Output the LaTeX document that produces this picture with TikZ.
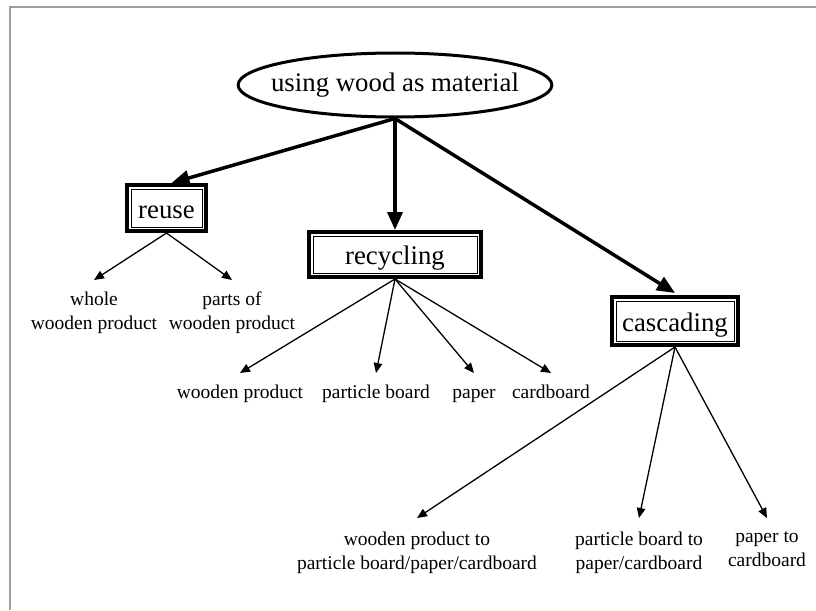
\documentclass[tikz,border=0pt]{standalone}
\usepackage{fontspec}
\setmainfont{Liberation Serif}
\usetikzlibrary{arrows.meta,shapes.geometric}
\begin{document}
\begin{tikzpicture}[x=1pt,y=-1pt,
  rootnode/.style={ellipse, draw, line width=3pt, minimum width=312pt,
    minimum height=64pt, inner xsep=-13pt, inner ysep=0pt,
    font=\fontsize{26.8}{30}\selectfont},
  catbox/.style={rectangle, inner sep=0pt, outer sep=0pt,
    text height=20pt, text depth=0pt, font=\fontsize{26.8}{30}\selectfont},
  leaf/.style={align=center, anchor=north, inner xsep=2pt, inner ysep=8.5pt,
    outer sep=0pt, font=\fontsize{19.5}{24}\selectfont,
    execute at begin node=\strut},
  bigarrow/.style={line width=3.5pt, -{Triangle[length=18pt,width=15pt]}},
  smallarrow/.style={line width=1.3pt, -{Triangle[length=10pt,width=8.5pt]}},
  outerframe/.style={line width=4pt},
  innerframe/.style={line width=1pt},
  pageedge/.style={draw=black!38, line width=1.2pt}
]
\useasboundingbox (0,0) rectangle (816,610);

% page edge
\draw[pageedge] (10,610) -- (10,7) -- (816,7);

% root
\node[rootnode] (root) at (395,85) {using wood as material};

% categories
\node[catbox, minimum width=83pt, minimum height=50pt] (reuse) at (166.5,208) {reuse};
\node[catbox, minimum width=176pt, minimum height=49pt] (recycling) at (395,254.5) {recycling};
\node[catbox, minimum width=130pt, minimum height=52pt] (cascading) at (675,321) {cascading};

\foreach \n in {reuse,recycling,cascading}{
  \draw[outerframe] ([shift={(2pt,-2pt)}]\n.north west) rectangle ([shift={(-2pt,2pt)}]\n.south east);
  \draw[innerframe] ([shift={(6pt,-6pt)}]\n.north west) rectangle ([shift={(-6pt,6pt)}]\n.south east);
}

% leaves of reuse
\node[leaf, inner ysep=12pt] (whole) at (94,280) {whole\\wooden product};
\node[leaf, inner ysep=12pt] (parts) at (232,280) {parts of\\wooden product};

% leaves of recycling
\node[leaf] (rwood) at (240,373) {wooden product};
\node[leaf] (rboard) at (376,373) {particle board};
\node[leaf] (rpaper) at (474,373) {paper};
\node[leaf] (rcard) at (551,373) {cardboard};

% leaves of cascading
\node[leaf, inner ysep=14pt] (cwood) at (417,518) {wooden product to\\particle board/paper/cardboard};
\node[leaf, inner ysep=14pt] (cboard) at (639,518) {particle board to\\paper/cardboard};
\node[leaf, inner ysep=14pt] (cpaper) at (767,518) {paper to\\cardboard};

% main branches
\draw[bigarrow] (root.south) -- ([xshift=5pt]reuse.north);
\draw[bigarrow] (root.south) -- (recycling.north);
\draw[bigarrow] (root.south) -- ([yshift=2pt]cascading.north);

% sub branches
\foreach \c in {whole,parts}
  \draw[smallarrow] (reuse.south) -- (\c.north);
\foreach \c in {rwood,rboard,rpaper,rcard}
  \draw[smallarrow] (recycling.south) -- (\c.north);
\foreach \c in {cwood,cboard,cpaper}
  \draw[smallarrow] (cascading.south) -- (\c.north);
\end{tikzpicture}
\end{document}
